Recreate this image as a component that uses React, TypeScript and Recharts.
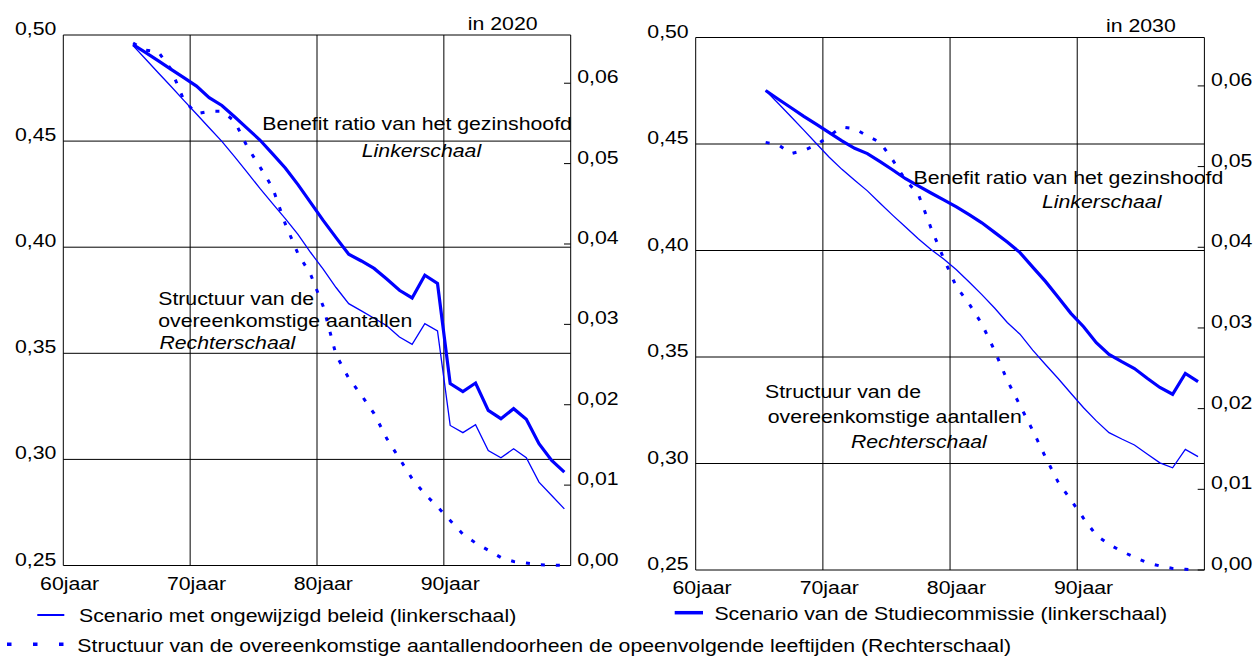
import React from "react";
import { LineChart, Line, XAxis, YAxis, CartesianGrid } from "recharts";

// leeftijden (categorieën)
const ages = [
  65, 66, 67, 68, 69, 70, 71, 72, 73, 74, 75, 76, 77, 78, 79, 80, 81, 82,
  83, 84, 85, 86, 87, 88, 89, 90, 91, 92, 93, 94, 95, 96, 97, 98, 99,
];

// in 2020
const ongewijzigd2020 = [
  0.495, 0.4886, 0.4821, 0.4757, 0.4692, 0.4628, 0.4563, 0.4499, 0.4427,
  0.4353, 0.4277, 0.4205, 0.4135, 0.406, 0.3975, 0.3895, 0.381, 0.3734,
  0.37, 0.3665, 0.363, 0.3577, 0.3542, 0.364, 0.3605, 0.316, 0.3126, 0.3164,
  0.3042, 0.3008, 0.305, 0.3008, 0.2893, 0.283, 0.2767,
];
const studie2020 = [
  0.4955, 0.4917, 0.4878, 0.4838, 0.4799, 0.4759, 0.4705, 0.4668, 0.4615,
  0.456, 0.4505, 0.444, 0.4373, 0.4295, 0.421, 0.4125, 0.4045, 0.3967,
  0.3935, 0.39, 0.385, 0.3797, 0.3761, 0.3868, 0.3829, 0.3357, 0.332, 0.336,
  0.3231, 0.3192, 0.3239, 0.3189, 0.3074, 0.2995, 0.294,
];
const structuur2020 = [
  0.065, 0.0641, 0.0639, 0.0617, 0.0579, 0.0562, 0.0565, 0.0565, 0.0553,
  0.0521, 0.0496, 0.047, 0.0425, 0.0388, 0.0362, 0.0322, 0.0262, 0.0233,
  0.0212, 0.0189, 0.0158, 0.0133, 0.0108, 0.0089, 0.0073, 0.0056, 0.0039,
  0.0028, 0.0019, 0.001, 0.0005, 0.0003, 0.0001, 0.00005, 0.0,
];

// in 2030
const ongewijzigd2030 = [
  0.4751, 0.469, 0.4628, 0.4565, 0.4501, 0.4438, 0.4381, 0.433, 0.428,
  0.4222, 0.4165, 0.411, 0.4055, 0.4005, 0.396, 0.391, 0.3852, 0.3793,
  0.373, 0.3662, 0.3607, 0.3532, 0.3465, 0.3399, 0.333, 0.3262, 0.32,
  0.3145, 0.3115, 0.3087, 0.3045, 0.3003, 0.298, 0.3066, 0.3032,
];
const studie2030 = [
  0.4751, 0.471, 0.467, 0.463, 0.4592, 0.4553, 0.4515, 0.448, 0.4455,
  0.4417, 0.4378, 0.4337, 0.4303, 0.427, 0.4238, 0.4205, 0.4168, 0.413,
  0.4085, 0.404, 0.399, 0.3922, 0.3855, 0.378, 0.3705, 0.3642, 0.3567,
  0.3512, 0.3478, 0.3446, 0.34, 0.3357, 0.3325, 0.3423, 0.3384,
];
const structuur2030 = [
  0.053, 0.0527, 0.0516, 0.052, 0.0527, 0.0538, 0.0549, 0.0547, 0.0538,
  0.053, 0.0508, 0.0483, 0.0466, 0.0424, 0.0386, 0.0351, 0.033, 0.0305,
  0.0272, 0.0235, 0.0204, 0.0173, 0.014, 0.0109, 0.0087, 0.0064, 0.0043,
  0.0032, 0.0023, 0.0016, 0.0009, 0.0005, 0.0002, 0.0001, 0.0,
];

const xTicks = [60, 70, 80, 90, 100];
const leftTicks = [0.25, 0.3, 0.35, 0.4, 0.45, 0.5];
const rightTicks = [0, 0.01, 0.02, 0.03, 0.04, 0.05, 0.06];

const BLUE = "#0000ff";
const INK = "#000";
const FONT = "'Liberation Sans', Arial, sans-serif";
const FS = 18.5;
const SX = 1.15; // het origineel is horizontaal uitgerekt

function Txt({ x, y, anchor = "start", italic = false, children }: any) {
  return (
    <text
      transform={`translate(${x},${y}) scale(${SX},1)`}
      textAnchor={anchor}
      fontFamily={FONT}
      fontSize={FS}
      fontStyle={italic ? "italic" : "normal"}
      fill={INK}
    >
      {children}
    </text>
  );
}

const comma = (v: number) => v.toFixed(2).replace(".", ",");

function LeftTick({ x, y, payload }: any) {
  return (
    <Txt x={x - 7} y={y} anchor="end">
      {comma(payload.value)}
    </Txt>
  );
}

function RightTick({ x, y, payload }: any) {
  return (
    <g>
      <line x1={x - 6.7} x2={x} y1={y} y2={y} stroke="#000" strokeWidth={1} />
      <Txt x={x + 6.5} y={y}>
        {comma(payload.value)}
      </Txt>
    </g>
  );
}

function AgeTick({ x, y, payload, half, dy }: any) {
  if (payload.value >= 100) return null;
  return (
    <Txt x={x + half} y={y + dy} anchor="middle">
      {payload.value + "jaar"}
    </Txt>
  );
}

function Panel({ beleid, studie, structuur, width, top, leftW, plotW, plotH, dy }: any) {
  const data = ages.map((age, i) => ({
    age,
    beleid: beleid[i],
    studie: studie[i],
    structuur: structuur[i],
  }));
  const height = 600;
  const rightW = width - leftW - plotW;
  const xH = height - top - plotH;
  const half = plotW / 80;
  return (
    <LineChart
      width={width}
      height={height}
      data={data}
      margin={{ top, right: 0, bottom: 0, left: 0 }}
      style={{ overflow: "visible" }}
    >
      <CartesianGrid yAxisId="l" stroke="#000" strokeWidth={1} />
      <XAxis
        type="number"
        dataKey={(d: any) => d.age + 0.5}
        domain={[60, 100]}
        ticks={xTicks}
        interval={0}
        height={xH}
        axisLine={false}
        tickLine={false}
        tickSize={0}
        tickMargin={0}
        tick={(p: any) => <AgeTick {...p} half={half} dy={dy} />}
      />
      <YAxis
        yAxisId="l"
        orientation="left"
        domain={[0.25, 0.5]}
        ticks={leftTicks}
        interval={0}
        width={leftW}
        axisLine={false}
        tickLine={false}
        tickSize={0}
        tickMargin={0}
        tick={(p: any) => <LeftTick {...p} />}
      />
      <YAxis
        yAxisId="r"
        orientation="right"
        domain={[0, 0.066]}
        ticks={rightTicks}
        interval={0}
        width={rightW}
        axisLine={false}
        tickLine={false}
        tickSize={0}
        tickMargin={0}
        tick={(p: any) => <RightTick {...p} />}
      />
      <Line
        yAxisId="r"
        type="linear"
        dataKey="structuur"
        stroke={BLUE}
        strokeWidth={3}
        strokeDasharray="4 11"
        dot={false}
        isAnimationActive={false}
      />
      <Line
        yAxisId="l"
        type="linear"
        dataKey="beleid"
        stroke={BLUE}
        strokeWidth={1.3}
        dot={false}
        isAnimationActive={false}
      />
      <Line
        yAxisId="l"
        type="linear"
        dataKey="studie"
        stroke={BLUE}
        strokeWidth={3.2}
        dot={false}
        isAnimationActive={false}
      />
    </LineChart>
  );
}

export default function App() {
  return (
    <div
      style={{
        position: "absolute",
        left: 0,
        top: 0,
        width: 1255,
        height: 657,
        background: "#fff",
        overflow: "hidden",
      }}
    >
      <div style={{ position: "absolute", left: 0, top: 0 }}>
        <Panel
          beleid={ongewijzigd2020}
          studie={studie2020}
          structuur={structuur2020}
          width={620}
          top={35}
          leftW={63.3}
          plotW={507.4}
          plotH={530.5}
          dy={24.5}
        />
      </div>
      <div style={{ position: "absolute", left: 620, top: 0 }}>
        <Panel
          beleid={ongewijzigd2030}
          studie={studie2030}
          structuur={structuur2030}
          width={635}
          top={37.5}
          leftW={75.7}
          plotW={508.7}
          plotH={532.5}
          dy={24}
        />
      </div>
      <svg
        width={1255}
        height={657}
        style={{ position: "absolute", left: 0, top: 0, pointerEvents: "none" }}
      >
        <Txt x={467.8} y={30}>in 2020</Txt>
        <Txt x={262.2} y={130}>Benefit ratio van het gezinshoofd</Txt>
        <Txt x={361.8} y={157} italic>Linkerschaal</Txt>
        <Txt x={158.2} y={305}>Structuur van de</Txt>
        <Txt x={158.2} y={327}>overeenkomstige aantallen</Txt>
        <Txt x={159.4} y={349} italic>Rechterschaal</Txt>

        <Txt x={1106} y={32.3}>in 2030</Txt>
        <Txt x={913.6} y={184}>Benefit ratio van het gezinshoofd</Txt>
        <Txt x={1042} y={208} italic>Linkerschaal</Txt>
        <Txt x={765} y={398}>Structuur van de</Txt>
        <Txt x={767.8} y={423}>overeenkomstige aantallen</Txt>
        <Txt x={850.9} y={448} italic>Rechterschaal</Txt>

        <line x1={37.3} x2={64.3} y1={615} y2={615} stroke={BLUE} strokeWidth={2} />
        <Txt x={79} y={622}>Scenario met ongewijzigd beleid (linkerschaal)</Txt>
        <line
          x1={7}
          x2={66}
          y1={644.3}
          y2={644.3}
          stroke={BLUE}
          strokeWidth={3.5}
          strokeDasharray="4.5 21.5"
        />
        <Txt x={77.3} y={652}>
          Structuur van de overeenkomstige aantallendoorheen de opeenvolgende leeftijden (Rechterschaal)
        </Txt>
        <line x1={674.7} x2={703} y1={612.7} y2={612.7} stroke={BLUE} strokeWidth={3.5} />
        <Txt x={714.4} y={620}>Scenario van de Studiecommissie (linkerschaal)</Txt>
      </svg>
    </div>
  );
}
